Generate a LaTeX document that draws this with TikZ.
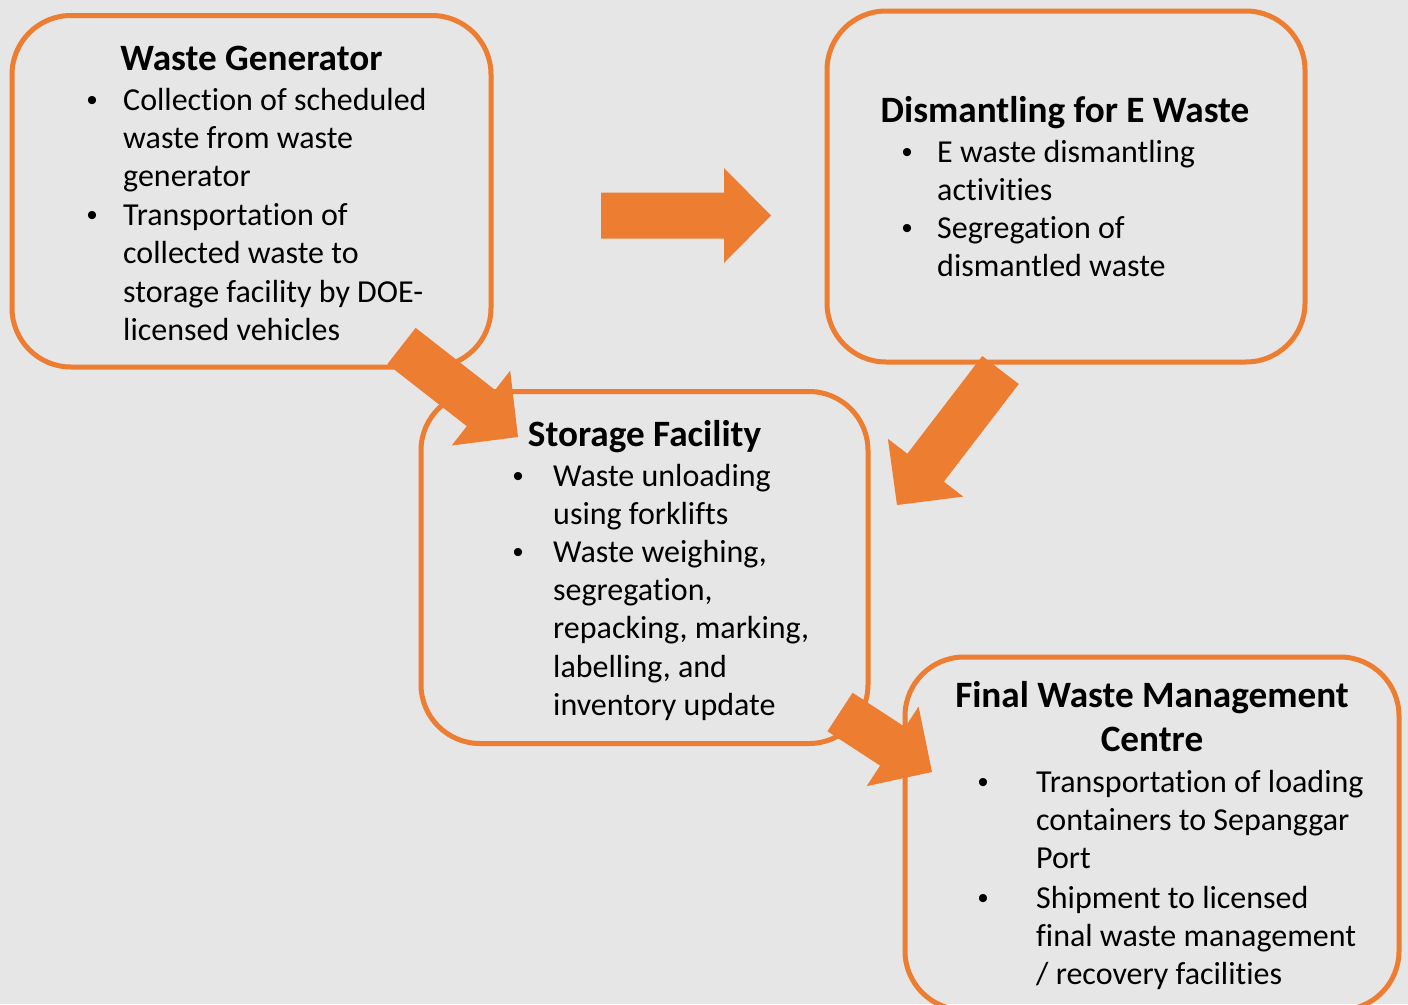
\documentclass[tikz,border=0pt]{standalone}
\usepackage{fontspec}
\setmainfont{Carlito}[Ligatures=NoCommon]
\newfontfamily\bulfont{Liberation Sans}
\usetikzlibrary{calc}
\definecolor{bg}{RGB}{231,230,230}
\definecolor{acc}{RGB}{237,125,49}
\tikzset{
  box/.style={draw=acc, line width=5pt, rounded corners=59pt, rectangle, inner sep=0pt},
  ttl/.style={font=\fontsize{37.2}{44}\selectfont\bfseries, inner sep=0pt, anchor=base},
  txt/.style={font=\fontsize{32}{38.4}\selectfont, inner sep=0pt, anchor=base west},
  bul/.style={font=\bulfont\fontsize{30}{38.4}\selectfont, inner sep=0pt, anchor=base},
  blk/.style={fill=acc, draw=none},
}
\newcommand\blockarrow[2]{%
  \coordinate (#1#2) at ($(#2)!47pt!(#1)$);
  \fill[blk] ($(#1)!23pt!90:(#2)$) -- ($(#1#2)!23pt!-90:(#1)$) -- ($(#1#2)!47.5pt!-90:(#1)$) -- (#2)
     -- ($(#1#2)!47.5pt!90:(#1)$) -- ($(#1#2)!23pt!90:(#1)$) -- ($(#1)!23pt!-90:(#2)$) -- cycle;
}
\newcommand\bitem[5]{%
  \node[bul] (#1) at (#2,#4) {•};
  \foreach \t [count=\i from 0] in {#5}{\node[txt] (#1-\i) at (#3,{#4+38.4*\i}) {\t};}
}
\begin{document}
\begin{tikzpicture}[x=1pt,y=-1pt]
\useasboundingbox (0,0) rectangle (1408,1004);
\fill[bg] (0,0) rectangle (1408,1004);

% boxes
\node[box, minimum width=479pt, minimum height=351.5pt] (wg)  at (251.5,191.25) {};
\node[box, minimum width=478pt, minimum height=351pt]   (dis) at (1066,186.5) {};
\node[box, minimum width=447pt, minimum height=352pt]   (sto) at (644.5,567.5) {};
\node[box, minimum width=494pt, minimum height=353pt]   (fin) at (1152,833.5) {};

% Waste Generator
\node[ttl] (wg-t) at (251.5,70) {Waste Generator};
\bitem{wg-a}{92}{123}{110}{{Collection of scheduled},{waste from waste},{generator}}
\bitem{wg-b}{92}{123}{225.2}{{Transportation of},{collected waste to},{storage facility by DOE-},{licensed vehicles}}

% Dismantling
\node[ttl] (dis-t) at (1065,122) {Dismantling for E Waste};
\bitem{dis-a}{907}{937}{162}{{E waste dismantling},{activities}}
\bitem{dis-b}{907}{937}{238}{{Segregation of},{dismantled waste}}

% Storage
\node[ttl] (sto-t) at (644.5,446) {Storage Facility};
\bitem{sto-a}{518}{553}{486}{{Waste unloading},{using forklifts}}
\bitem{sto-b}{518}{553}{562}{{Waste weighing,},{segregation,},{repacking, marking,},{labelling, and},{inventory update}}

% Final
\node[ttl] (fin-t1) at (1152,707) {Final Waste Management};
\node[ttl] (fin-t2) at (1152,751) {Centre};
\bitem{fin-a}{983}{1036}{792}{{Transportation of loading},{containers to Sepanggar},{Port}}
\bitem{fin-b}{983}{1036}{908}{{Shipment to licensed},{final waste management},{/ recovery facilities}}

% arrows
\coordinate (a1s) at (601,215.5);  \coordinate (a1e) at (771,215.5);
\coordinate (a2s) at (1000.5,370); \coordinate (a2e) at (897,505);
\coordinate (a3s) at (401.5,346);  \coordinate (a3e) at (518,437);
\coordinate (a4s) at (840,712);    \coordinate (a4e) at (932,772);
\blockarrow{a1s}{a1e}
\blockarrow{a2s}{a2e}
\blockarrow{a3s}{a3e}
\blockarrow{a4s}{a4e}
\end{tikzpicture}
\end{document}
